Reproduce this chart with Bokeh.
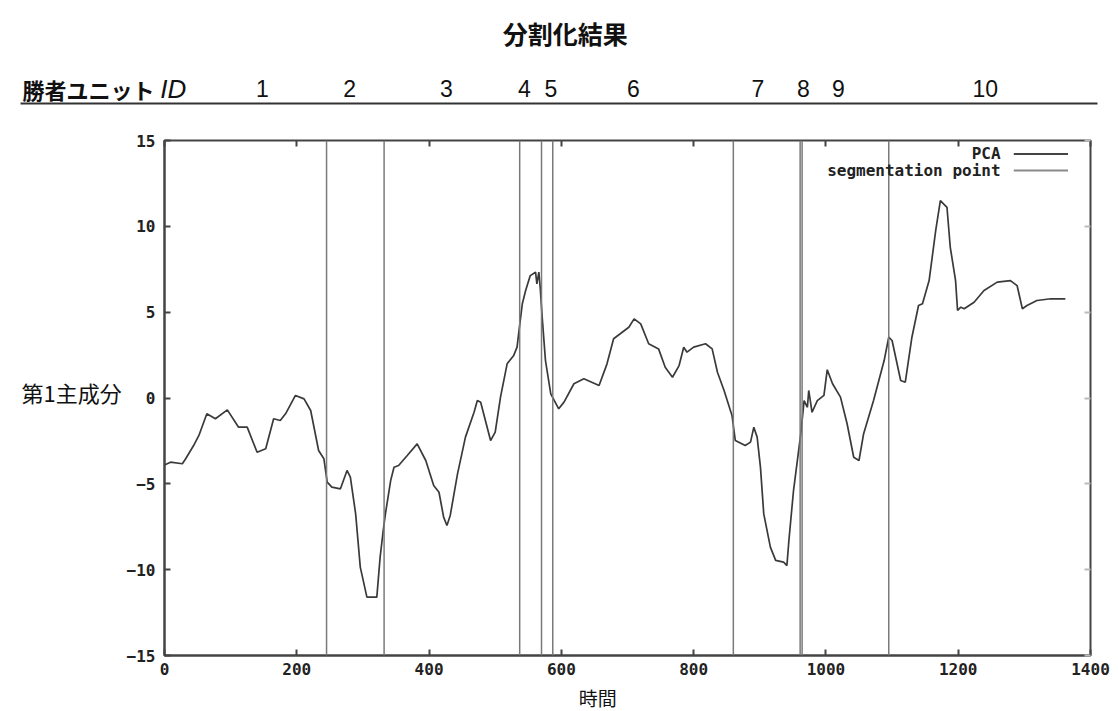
from bokeh.plotting import figure
from bokeh.models import Range1d, Label, Span, LinearAxis, Arrow, FixedTicker
from bokeh.layouts import column, row
from bokeh.core.properties import value
from bokeh.embed import file_html
from bokeh.resources import INLINE

# ---------------- data ----------------
time = [0, 9, 27, 32, 44, 52, 64, 77, 95, 112, 125, 140, 153, 165, 175, 183, 198, 211,
        221, 233, 241, 246, 253, 266, 276, 281, 289, 296, 306, 321, 326, 331, 334, 342,
        347, 354, 367, 382, 395, 407, 415, 422, 427, 432, 443, 455, 468, 473, 478, 493,
        500, 508, 518, 528, 533, 536, 541, 546, 553, 561, 563, 566, 568, 571, 576, 584,
        596, 604, 619, 634, 657, 669, 679, 689, 702, 710, 720, 732, 747, 757, 768, 778,
        785, 790, 800, 818, 828, 836, 846, 858, 863, 878, 886, 891, 896, 901, 906, 916,
        924, 936, 941, 944, 951, 962, 967, 972, 974, 979, 987, 997, 1002, 1010, 1022,
        1032, 1042, 1050, 1057, 1072, 1088, 1095, 1100, 1113, 1120, 1130, 1140, 1146,
        1156, 1166, 1173, 1183, 1188, 1196, 1199, 1204, 1209, 1224, 1239, 1259, 1279,
        1289, 1297, 1304, 1319, 1340, 1362]
pca = [-3.9, -3.74, -3.83, -3.54, -2.77, -2.18, -0.92, -1.21, -0.69, -1.70, -1.70, -3.16,
       -2.96, -1.21, -1.31, -0.92, 0.15, -0.05, -0.73, -3.06, -3.54, -4.90, -5.19, -5.29,
       -4.22, -4.61, -6.75, -9.85, -11.6, -11.6, -9.27, -7.62, -6.75, -4.80, -4.03, -3.93,
       -3.35, -2.67, -3.64, -5.10, -5.49, -6.94, -7.43, -6.84, -4.42, -2.28, -0.83, -0.15,
       -0.25, -2.48, -1.99, 0.05, 1.99, 2.48, 2.96, 3.93, 5.49, 6.26, 7.13, 7.33, 6.65,
       7.33, 6.45, 4.71, 2.18, 0.24, -0.63, -0.24, 0.83, 1.12, 0.73, 1.99, 3.45, 3.74,
       4.12, 4.61, 4.32, 3.16, 2.86, 1.79, 1.21, 1.89, 2.96, 2.67, 2.96, 3.16, 2.86, 1.50,
       0.44, -1.02, -2.48, -2.77, -2.57, -1.70, -2.28, -4.03, -6.75, -8.69, -9.46, -9.56,
       -9.76, -8.30, -5.39, -2.08, -0.15, -0.54, 0.44, -0.83, -0.15, 0.15, 1.65, 0.83,
       0.05, -1.50, -3.45, -3.64, -2.08, -0.15, 2.18, 3.54, 3.35, 1.02, 0.92, 3.54, 5.39,
       5.49, 6.84, 9.76, 11.50, 11.11, 8.78, 6.84, 5.10, 5.29, 5.20, 5.58, 6.26, 6.75,
       6.84, 6.55, 5.20, 5.39, 5.68, 5.78, 5.78]

seg_points = [245, 332, 537, 570, 587, 860, 961, 964, 1095]

unit_ids = ["1", "2", "3", "4", "5", "6", "7", "8", "9", "10"]
unit_label_x = [148, 280, 426, 544, 584, 709, 897, 966, 1019, 1241]

x_ticks = [0, 200, 400, 600, 800, 1000, 1200, 1400]
y_ticks = [-15, -10, -5, 0, 5, 10, 15]

title_text = "分割化結果"
header_text = "勝者ユニット"
header_id = "ID"
y_label = "第1主成分"
x_label = "時間"
legend_labels = ["PCA", "segmentation point"]

# ---------------- styles ----------------
cjk = "Noto Sans CJK JP"
tick_font = "DejaVu Sans Mono"
X_LO, X_HI = -248, 1430.3          # x span of full-width strips (same scale as plot)


def blank_fig(w, h, xr, yr):
    f = figure(width=w, height=h, x_range=xr, y_range=yr, x_axis_type=None,
               y_axis_type=None, output_backend="svg", toolbar_location=None,
               min_border=0, outline_line_color=None,
               background_fill_color="white", border_fill_color="white")
    f.xgrid.visible = False
    f.ygrid.visible = False
    return f


# ---------------- header strip ----------------
head = blank_fig(1110, 126, Range1d(X_LO, X_HI), Range1d(126, 0))
head.text(x=[606], y=[32], text=[title_text], text_align="center", text_baseline="middle",
          text_font=value(cjk), text_font_style="bold", text_font_size="25px",
          text_color="#111111")
head.text(x=[-214.7], y=[88], text=[header_text], text_align="left", text_baseline="middle",
          text_font=value(cjk), text_font_style="bold", text_font_size="22px",
          text_color="#111111")
head.text(x=[-6.5], y=[88], text=[header_id], text_align="left", text_baseline="middle",
          text_font=value("Liberation Sans"), text_font_style="italic",
          text_font_size="26px", text_color="#111111")
head.text(x=unit_label_x, y=[88] * len(unit_ids), text=unit_ids, text_align="center",
          text_baseline="middle", text_font=value("Liberation Sans"),
          text_font_size="23px", text_color="#111111")
head.segment(x0=[-217.7], y0=[103], x1=[1410.6], y1=[103], line_color="#333333",
             line_width=2)

# ---------------- y-label strip ----------------
ylab = blank_fig(123, 555, Range1d(0, 123), Range1d(681, 126))
ylab.text(x=[21], y=[397], text=[y_label], text_align="left", text_baseline="middle",
          text_font=value(cjk), text_font_size="22px", text_color="#111111")

# ---------------- main plot ----------------
p = figure(frame_width=926, frame_height=515,
           x_range=Range1d(0, 1400), y_range=Range1d(-15, 15),
           output_backend="svg", toolbar_location=None,
           min_border_left=41, min_border_right=20,
           min_border_top=14, min_border_bottom=26,
           background_fill_color="white", border_fill_color="white")
p.xgrid.visible = False
p.ygrid.visible = False
p.outline_line_color = "#444444"
p.outline_line_width = 2

for ax, ticks in ((p.xaxis[0], x_ticks), (p.yaxis[0], y_ticks)):
    ax.ticker = FixedTicker(ticks=ticks)
    ax.major_tick_in = 6
    ax.major_tick_out = 0
    ax.minor_tick_in = 0
    ax.minor_tick_out = 0
    ax.axis_line_color = "#444444"
    ax.axis_line_width = 2
    ax.major_tick_line_color = "#444444"
    ax.major_tick_line_width = 2
    ax.major_label_text_font = tick_font
    ax.major_label_text_font_style = "bold"
    ax.major_label_text_font_size = "16px"
    ax.major_label_text_color = "#222222"
p.yaxis[0].major_label_standoff = 9
p.xaxis[0].major_label_standoff = 7

top_axis = LinearAxis(ticker=FixedTicker(ticks=x_ticks),
                      major_label_overrides={t: "" for t in x_ticks},
                      major_label_text_font_size="1px", major_label_standoff=0,
                      major_tick_in=6, major_tick_out=0, minor_tick_in=0, minor_tick_out=0,
                      axis_line_color=None, major_tick_line_color="#444444",
                      major_tick_line_width=2)
right_axis = LinearAxis(ticker=FixedTicker(ticks=y_ticks),
                        major_label_overrides={t: "" for t in y_ticks},
                        major_label_text_font_size="1px", major_label_standoff=0,
                        major_tick_in=6, major_tick_out=0, minor_tick_in=0, minor_tick_out=0,
                        axis_line_color=None, major_tick_line_color="#bbbbbb",
                        major_tick_line_width=2)
p.add_layout(top_axis, "above")
p.add_layout(right_axis, "right")

# segmentation lines
for s in seg_points:
    p.add_layout(Span(location=s, dimension="height", line_color="#7a7a7a", line_width=1.5))

# PCA curve
p.line(time, pca, line_color="#3a3a3a", line_width=1.7)

# legend (gnuplot style: text then sample line)
leg_y = [14.22, 13.25]
leg_colors = ["#444444", "#8a8a8a"]
for lab, yy, col in zip(legend_labels, leg_y, leg_colors):
    p.add_layout(Label(x=1264, y=yy, text=lab, text_align="right", text_baseline="middle",
                       text_font=tick_font, text_font_style="bold", text_font_size="16px",
                       text_color="#222222"))
    p.add_layout(Arrow(end=None, x_start=1284, y_start=yy, x_end=1366, y_end=yy,
                       line_color=col, line_width=2))

# ---------------- footer strip (x label) ----------------
foot = blank_fig(1110, 30, Range1d(X_LO, X_HI), Range1d(30, 0))
foot.text(x=[655], y=[16], text=[x_label], text_align="center", text_baseline="middle",
          text_font=value(cjk), text_font_size="19px", text_color="#111111")

layout = column(head, row(ylab, p), foot)
open("out.html", "w").write(file_html(layout, INLINE))
